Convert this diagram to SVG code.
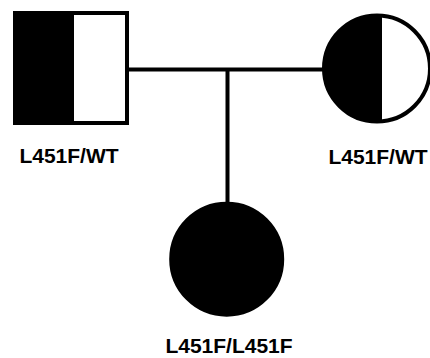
<svg xmlns="http://www.w3.org/2000/svg" width="430" height="358" viewBox="0 0 430 358">
<style>
.sym{stroke:#000;stroke-width:4}
.ln{stroke:#000;stroke-width:4;fill:none}
.lbl{font-family:"Liberation Sans",Arial,sans-serif;font-weight:bold;font-size:21px;fill:#000;text-anchor:middle}
</style>
<defs>
<clipPath id="leftHalf"><rect x="0" y="0" width="382" height="358"/></clipPath>
</defs>
<rect width="430" height="358" fill="#fff"/>
<g id="connectors">
<line class="ln" x1="128" y1="69.5" x2="326" y2="69.5"/>
<line class="ln" x1="227.5" y1="69.5" x2="227.5" y2="204"/>
</g>
<g id="father">
<rect x="15" y="13" width="112" height="110" fill="#fff"/>
<rect x="15" y="13" width="59" height="110" fill="#000"/>
<rect class="sym" x="15" y="13" width="112" height="110" fill="none"/>
<text class="lbl" x="69" y="163">L451F/WT</text>
</g>
<g id="mother">
<circle cx="377" cy="68.5" r="53" fill="#fff"/>
<circle cx="377" cy="68.5" r="53" fill="#000" clip-path="url(#leftHalf)"/>
<circle class="sym" cx="377" cy="68.5" r="53" fill="none"/>
<text class="lbl" x="378" y="164">L451F/WT</text>
</g>
<g id="child">
<circle class="sym" cx="226.7" cy="259.2" r="55.5" fill="#000"/>
<text class="lbl" x="229" y="353">L451F/L451F</text>
</g>
</svg>
